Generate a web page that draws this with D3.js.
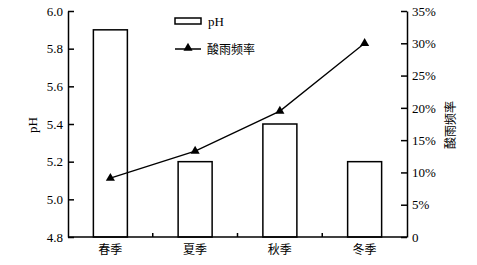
<!DOCTYPE html>
<html lang="zh">
<head>
<meta charset="UTF-8">
<script src="https://d3js.org/d3.v7.min.js"></script>
<style>
  body { margin: 0; background: #fff; }
  svg { display: block; }
  text { font-family: "Liberation Serif", "DejaVu Serif", "Noto Sans CJK SC", serif; fill: #000; }
</style>
</head>
<body>
<svg id="chart" width="477" height="265"></svg>
<script>
const seasons = ["春季", "夏季", "秋季", "冬季"];
const phValues = [5.9, 5.2, 5.4, 5.2];
const acidRate = [9.1, 13.3, 19.5, 30];
const phTicks = [4.8, 5.0, 5.2, 5.4, 5.6, 5.8, 6.0];
const rateTicks = [0, 5, 10, 15, 20, 25, 30, 35];

const serif = "'Liberation Serif', 'DejaVu Serif', serif";
const cjk = "'Noto Sans CJK SC', sans-serif";

const svg = d3.select("#chart");
const plotLeft = 68, plotRight = 407, plotTop = 11, plotBottom = 237;

const xc = d3.scaleBand().domain(seasons).range([plotLeft, plotRight]);
const yL = d3.scaleLinear().domain([4.8, 6.0]).range([plotBottom, plotTop]);
const yR = d3.scaleLinear().domain([0, 35]).range([plotBottom, plotTop]);
const cx = d => xc(d) + xc.bandwidth() / 2;

// bars
svg.selectAll("rect.bar").data(seasons).enter().append("rect")
  .attr("x", d => cx(d) - 17)
  .attr("y", (d, i) => yL(phValues[i]))
  .attr("width", 34)
  .attr("height", (d, i) => plotBottom - yL(phValues[i]))
  .attr("fill", "#fff").attr("stroke", "#000").attr("stroke-width", 1.5);

// left axis
const axL = svg.append("g").attr("transform", `translate(${plotLeft},0)`)
  .call(d3.axisLeft(yL).tickValues(phTicks).tickFormat(d3.format(".1f")).tickSizeInner(-6).tickSizeOuter(0))
  .attr("font-family", serif);
axL.select(".domain").attr("stroke-width", 1.5);
axL.selectAll(".tick line").attr("stroke-width", 1.5);
axL.selectAll("text").attr("x", -5).style("font-size", "13px").style("font-family", serif);

// right axis
const axR = svg.append("g").attr("transform", `translate(${plotRight},0)`)
  .call(d3.axisRight(yR).tickValues(rateTicks).tickFormat(d => d === 0 ? "0" : d + "%").tickSizeInner(-6).tickSizeOuter(0))
  .attr("font-family", serif);
axR.select(".domain").attr("stroke-width", 1.5);
axR.selectAll(".tick line").attr("stroke-width", 1.5);
axR.selectAll("text").attr("x", 5).style("font-size", "13px").style("font-family", serif);

// bottom axis
svg.append("line").attr("x1", plotLeft).attr("x2", plotRight).attr("y1", plotBottom).attr("y2", plotBottom)
  .attr("stroke", "#000").attr("stroke-width", 1.5);
svg.selectAll("line.sep").data(seasons.slice(1)).enter().append("line")
  .attr("x1", d => xc(d)).attr("x2", d => xc(d))
  .attr("y1", plotBottom).attr("y2", plotBottom - 4)
  .attr("stroke", "#000").attr("stroke-width", 1.5);
svg.selectAll("text.xl").data(seasons).enter().append("text")
  .attr("x", d => cx(d))
  .attr("y", 254)
  .attr("text-anchor", "middle")
  .style("font-size", "12px")
  .style("font-family", cjk)
  .text(d => d);

// line
const line = d3.line().x((d, i) => cx(seasons[i])).y(d => yR(d));
svg.append("path").datum(acidRate).attr("d", line)
  .attr("fill", "none").attr("stroke", "#000").attr("stroke-width", 1.3);
const tri = d3.symbol().type(d3.symbolTriangle).size(36);
svg.selectAll("path.pt").data(acidRate).enter().append("path")
  .attr("d", tri)
  .attr("transform", (d, i) => `translate(${cx(seasons[i])},${yR(d)})`)
  .attr("fill", "#000");

// axis titles
svg.append("text").attr("transform", "translate(37,125) rotate(-90)")
  .attr("text-anchor", "middle").style("font-size", "13px").style("font-family", serif).text("pH");
svg.append("text").attr("transform", "translate(455,125) rotate(-90)")
  .attr("text-anchor", "middle").style("font-size", "12px")
  .style("font-family", cjk).text("酸雨频率");

// legend
svg.append("rect").attr("x", 175).attr("y", 18).attr("width", 26).attr("height", 6)
  .attr("fill", "#fff").attr("stroke", "#000").attr("stroke-width", 1.5);
svg.append("text").attr("x", 208).attr("y", 26).style("font-size", "13px").style("font-family", serif).text("pH");
svg.append("line").attr("x1", 175).attr("x2", 201).attr("y1", 49).attr("y2", 49)
  .attr("stroke", "#000").attr("stroke-width", 1.5);
svg.append("path").attr("d", tri).attr("transform", "translate(188,48)").attr("fill", "#000");
svg.append("text").attr("x", 207).attr("y", 54).style("font-size", "12px")
  .style("font-family", cjk).text("酸雨频率");
</script>
</body>
</html>
